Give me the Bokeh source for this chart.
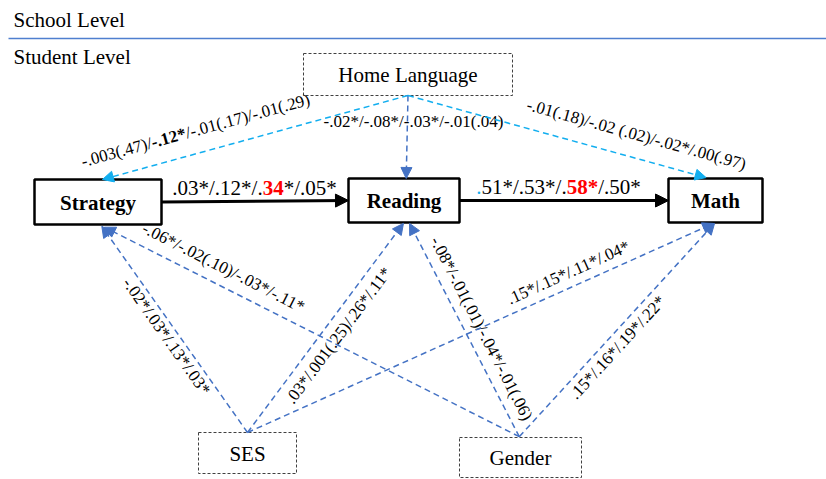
import math
from bokeh.plotting import figure
from bokeh.models import Range1d, Arrow, NormalHead, ColumnDataSource
from bokeh.core.properties import value
from bokeh.embed import file_html
from bokeh.resources import INLINE

# ---------------- data ----------------
level_titles = ["School Level", "Student Level"]
nodes = ["Home Language", "Strategy", "Reading", "Math", "SES", "Gender"]
latent_bold = ["Strategy", "Reading", "Math"]
edge_from = ["Strategy", "Reading", "Home Language", "Home Language", "Home Language",
             "SES", "SES", "SES", "Gender", "Gender", "Gender"]
edge_to = ["Reading", "Math", "Strategy", "Reading", "Math",
           "Strategy", "Reading", "Math", "Strategy", "Reading", "Math"]
edge_labels = [
    ".03*/.12*/.34*/.05*",
    ".51*/.53*/.58*/.50*",
    "-.003(.47)/-.12*/-.01(.17)/-.01(.29)",
    "-.02*/-.08*/-.03*/-.01(.04)",
    "-.01(.18)/-.02 (.02)/-.02*/.00(.97)",
    "-.02*/.03*/.13*/.03*",
    ".03*/.001(.25)/.26*/.11*",
    ".15*/.15*/.11*/.04*",
    "-.06*/-.02(.10)/-.03*/-.11*",
    "-.08*/-.01(.01)/-.04*/-.01(.06)",
    ".15*/.16*/.19*/.22*",
]

# ---------------- styles / layout ----------------
RED = "#FF0000"
LIGHT = "#12AEEF"
MID = "#4472C4"
FONT = value("Liberation Serif")
# emphasised character spans: label index -> [(start, end, bold, color)]
emph = {
    0: [(11, 13, True, RED)],
    1: [(0, 1, False, LIGHT), (11, 14, True, RED)],
    2: [(11, 16, True, "black")],
}
edge_kind = ["direct", "direct", "light", "mid", "light", "mid", "mid", "mid", "mid", "mid", "mid"]

box = {  # left, right, top, bottom (pixels, y down)
    "Home Language": (303, 512, 53, 95),
    "Strategy": (34, 161, 179, 224),
    "Reading": (348, 459, 178, 222),
    "Math": (668, 762, 178, 222),
    "SES": (198, 296, 432, 473),
    "Gender": (459, 581, 437, 477),
}
# port fractions (fx, fy) inside each box for edge start / end
start_port = [(1, .5), (1, .5), (.5, 1), (.5, 1), (.5, 1),
              (.5, 0), (.5, 0), (.5, 0), (.49, -.02), (.49, -.02), (.49, -.02)]
end_port = [(0, .5), (0, .5), (.535, 0), (.52, 0), (.40, -.02),
            (.53, 1.04), (.495, 1.02), (.48, 1.02), (.55, 1.06), (.55, 1.02), (.49, 1.02)]
# label centres (middle of the text band)
label_pos = [(254, 187), (558, 186), (195, 130), (413, 121), (636, 134),
             (166, 336), (338, 335), (568, 272), (223, 267), (481, 328), (617, 347)]
label_size = [21, 21, 17, 17, 17, 17, 17, 17, 17, 17, 17]
label_horizontal = [True, True, False, True, False, False, False, False, False, False, False]


def port(name, f):
    l, r, t, b = box[name]
    return l + f[0] * (r - l), t + f[1] * (b - t)


CW = {'.': .25, '*': .5, '/': .278, '-': .333, '(': .333, ')': .333, ' ': .25}


def tw(s, size):
    return sum(CW.get(ch, .5) for ch in s) * size


p = figure(width=826, height=479, x_range=Range1d(0, 826), y_range=Range1d(479, 0),
           output_backend="svg", toolbar_location=None, min_border=0)
p.axis.visible = False
p.grid.visible = False
p.outline_line_color = None
p.background_fill_color = "white"
p.border_fill_color = "white"

# level separator and titles
p.line(x=[8, 826], y=[38, 38], line_color="#4F7FCF", line_width=1.3)
p.text(x=[13, 13], y=[19, 56], text=level_titles, text_font=FONT, text_font_size="21px",
       text_baseline="middle", text_align="left", text_color="black")

# boxes
for n in nodes:
    l, r, t, b = box[n]
    bold = n in latent_bold
    p.quad(left=[l], right=[r], top=[t], bottom=[b], fill_color="white",
           line_color="black" if bold else "#404040",
           line_width=2.5 if bold else 1, line_dash="solid" if bold else "3 2")
    p.text(x=[(l + r) / 2], y=[(t + b) / 2 + 0.5], text=[n], text_font=FONT,
           text_font_size="21px", text_font_style="bold" if bold else "normal",
           text_align="center", text_baseline="middle", text_color="black")

# edges
styles = {
    "direct": dict(color="black", width=3, dash="solid", head=13),
    "light": dict(color=LIGHT, width=1.5, dash="6 4", head=11),
    "mid": dict(color=MID, width=1.5, dash="6 4", head=11),
}
angles = []
for i in range(len(edge_from)):
    x0, y0 = port(edge_from[i], start_port[i])
    x1, y1 = port(edge_to[i], end_port[i])
    st = styles[edge_kind[i]]
    src = ColumnDataSource(dict(x0=[x0], y0=[y0], x1=[x1], y1=[y1]))
    p.add_layout(Arrow(end=NormalHead(size=st["head"], fill_color=st["color"],
                                      line_color=st["color"], line_width=1),
                       x_start="x0", y_start="y0", x_end="x1", y_end="y1", source=src,
                       line_color=st["color"], line_width=st["width"], line_dash=st["dash"]))
    a = math.degrees(math.atan2(-(y1 - y0), x1 - x0))
    if a > 90:
        a -= 180
    if a < -90:
        a += 180
    angles.append(0.0 if label_horizontal[i] else a)


def segments(i):
    s = edge_labels[i]
    spans = sorted(emph.get(i, []))
    out, pos = [], 0
    for (a, b, bold, col) in spans:
        if a > pos:
            out.append((s[pos:a], False, "black"))
        out.append((s[a:b], bold, col))
        pos = b
    if pos < len(s):
        out.append((s[pos:], False, "black"))
    return out


for i in range(len(edge_labels)):
    cx, cy = label_pos[i]
    size = label_size[i]
    ang = math.radians(angles[i])
    segs = segments(i)
    L = sum(tw(s, size) for s, _, _ in segs)
    dx, dy = math.cos(ang), -math.sin(ang)
    cum = 0
    for s, bold, col in segs:
        w = tw(s, size)
        off = cum + w / 2 - L / 2
        p.text(x=[cx + off * dx], y=[cy + off * dy], text=[s], angle=ang,
               text_font=FONT, text_font_size=f"{size}px",
               text_font_style="bold" if bold else "normal",
               text_align="center", text_baseline="middle", text_color=col)
        cum += w

open("out.html", "w").write(file_html(p, INLINE))
